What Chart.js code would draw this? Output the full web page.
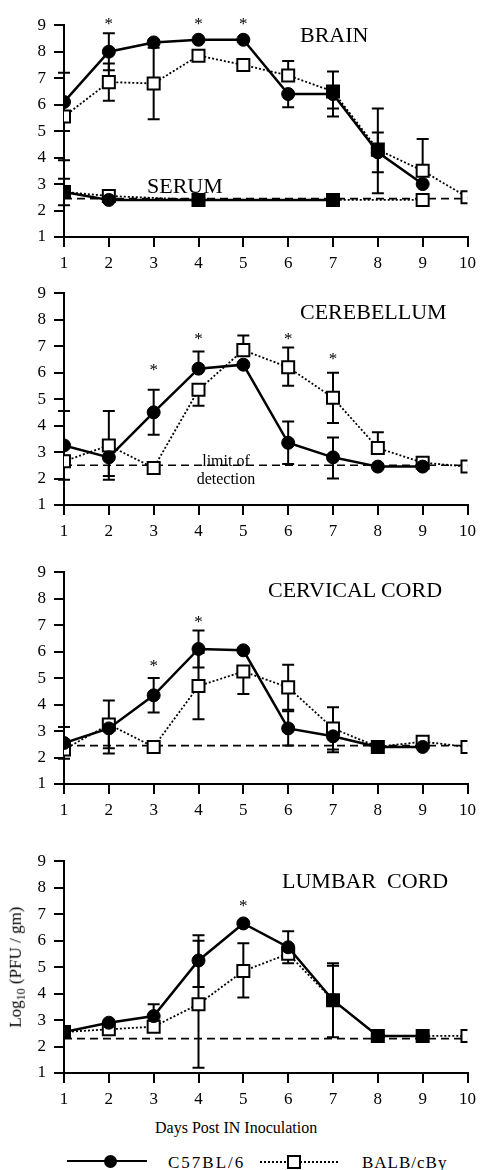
<!DOCTYPE html>
<html>
<head>
<meta charset="utf-8">
<script src="https://cdn.jsdelivr.net/npm/chart.js@4.4.1/dist/chart.umd.min.js"></script>
<style>
  body { margin: 0; background: #fff; }
  #wrap { position: relative; width: 482px; height: 1170px; overflow: hidden; font-family: "Liberation Serif", serif; color: #000; }
  canvas { position: absolute; left: 0; }
  .t { position: absolute; white-space: nowrap; line-height: 1; }
  .big { font-size: 22px; }
</style>
</head>
<body>
<div id="wrap">
  <canvas id="c1" width="482" height="266" style="top:7px"></canvas>
  <canvas id="c2" width="482" height="266" style="top:275px"></canvas>
  <canvas id="c3" width="482" height="266" style="top:554px"></canvas>
  <canvas id="c4" width="482" height="266" style="top:843px"></canvas>

  <div class="t big" style="left:300px;top:24px">BRAIN</div>
  <div class="t big" style="left:147px;top:175px">SERUM</div>
  <div class="t big" style="left:300px;top:301px">CEREBELLUM</div>
  <div class="t" style="left:190px;top:452px;font-size:16px;line-height:18px;text-align:center;width:72px">limit of<br>detection</div>
  <div class="t big" style="left:268px;top:579px">CERVICAL CORD</div>
  <div class="t big" style="left:282px;top:870px">LUMBAR&nbsp;&nbsp;CORD</div>

  <div class="t" style="left:-53px;top:957px;width:140px;text-align:center;font-size:17px;transform:rotate(-90deg)">Log<sub style="font-size:12px">10</sub> (PFU / gm)</div>
  <div class="t" style="left:155px;top:1120px;font-size:16px">Days Post IN Inoculation</div>

  <div style="position:absolute;left:67px;top:1160px;width:80px;border-top:2.5px solid #000"></div>
  <div style="position:absolute;left:104px;top:1155px;width:13px;height:13px;border-radius:50%;background:#000"></div>
  <div class="t" style="left:168px;top:1154px;font-size:17px;letter-spacing:2px">C57BL/6</div>
  <div style="position:absolute;left:260px;top:1161px;width:78px;border-top:2px dotted #000"></div>
  <div style="position:absolute;left:287px;top:1155px;width:10px;height:10px;border:2px solid #000;background:#fff"></div>
  <div class="t" style="left:362px;top:1154px;font-size:17px;letter-spacing:1px">BALB/cBy</div>
</div>

<script>
const days = [1, 2, 3, 4, 5, 6, 7, 8, 9, 10];

// BRAIN
const brainC57 = [6.1, 8.0, 8.35, 8.45, 8.45, 6.4, 6.4, 4.2, 3.0, null];
const brainBalb = [5.55, 6.85, 6.8, 7.85, 7.5, 7.1, 6.5, 4.3, 3.5, 2.5];
const brainC57Hi = [7.2, 8.7, null, null, null, null, null, 4.95, null, null];
const brainC57Lo = [5.0, 7.3, null, null, null, 5.9, 5.55, 3.45, null, null];
const brainBalbHi = [null, 7.55, 8.15, null, null, 7.65, 7.25, 5.85, 4.7, null];
const brainBalbLo = [3.9, 6.15, 5.45, null, null, null, 5.85, 2.65, null, null];
const serumC57 = [2.7, 2.4, null, 2.4, null, null, 2.4, null, null, null];
const serumBalb = [2.7, 2.55, null, 2.4, null, null, 2.4, null, 2.4, null];
const serumHi = [3.2, null, null, null, null, null, null, null, null, null];
const serumLo = [2.2, null, null, null, null, null, null, null, null, null];
const brainStarDays = [2, 4, 5];
const brainStarLevels = [9.15, 9.15, 9.15];

// CEREBELLUM
const cbC57 = [3.25, 2.8, 4.5, 6.15, 6.3, 3.35, 2.8, 2.45, 2.45, null];
const cbBalb = [2.65, 3.25, 2.4, 5.35, 6.85, 6.2, 5.05, 3.15, 2.6, 2.45];
const cbC57Hi = [4.55, null, 5.35, 6.8, null, 4.15, 3.55, null, null, null];
const cbC57Lo = [null, 2.1, 3.65, null, null, 2.55, 2.0, null, null, null];
const cbBalbHi = [null, 4.55, null, null, 7.4, 6.95, 6.0, 3.75, null, null];
const cbBalbLo = [1.95, 1.95, null, 4.75, null, 5.5, 4.1, null, null, null];
const cbStarDays = [3, 4, 6, 7];
const cbStarLevels = [6.2, 7.35, 7.35, 6.6];

// CERVICAL CORD
const cvC57 = [2.55, 3.1, 4.35, 6.1, 6.05, 3.1, 2.8, 2.4, 2.4, null];
const cvBalb = [2.3, 3.25, 2.4, 4.7, 5.25, 4.65, 3.1, 2.4, 2.6, 2.4];
const cvC57Hi = [3.15, null, 5.0, 6.8, null, 3.75, null, null, null, null];
const cvC57Lo = [null, 2.15, 3.7, 5.4, null, 2.45, 2.3, null, null, null];
const cvBalbHi = [null, 4.15, null, 5.95, null, 5.5, 3.9, null, null, null];
const cvBalbLo = [1.95, 2.35, null, 3.45, 4.4, 3.8, 2.2, null, null, null];
const cvStarDays = [3, 4];
const cvStarLevels = [5.55, 7.2];

// LUMBAR CORD
const lbC57 = [2.55, 2.9, 3.15, 5.25, 6.65, 5.75, 3.75, 2.4, 2.4, null];
const lbBalb = [2.55, 2.65, 2.75, 3.6, 4.85, 5.5, 3.75, 2.4, 2.4, 2.4];
const lbC57Hi = [null, null, 3.6, 6.2, null, 6.35, 5.15, null, null, null];
const lbC57Lo = [null, null, null, 4.25, null, null, 2.35, null, null, null];
const lbBalbHi = [null, null, null, 6.0, 5.9, null, 5.05, null, null, null];
const lbBalbLo = [null, null, null, 1.2, 3.85, 5.15, null, null, null, null];
const lbStarDays = [5];
const lbStarLevels = [7.4];

const yTicks = [1, 2, 3, 4, 5, 6, 7, 8, 9];
const limits = [2.45, 2.5, 2.45, 2.3];

// turn a value list into {x,y} points, dropping the gaps
let pts = (vals) => days.map((d, i) => ({ x: d, y: vals[i] })).filter(p => p.y !== null);
let errs = (vals, arr) => days.map((d, i) => arr[i]).filter((e, i) => vals[i] !== null);

let c57Set = (vals, hi, lo) => ({
    data: pts(vals),
    errHi: errs(vals, hi), errLo: errs(vals, lo),
    borderColor: "#000", borderWidth: 2.5,
    pointStyle: "circle", pointRadius: 6.5,
    pointBackgroundColor: "#000", pointBorderColor: "#000", pointBorderWidth: 1
});

let balbSet = (vals, hi, lo, other) => ({
    data: pts(vals),
    errHi: errs(vals, hi), errLo: errs(vals, lo),
    borderColor: "#000", borderWidth: 1.8, borderDash: [2, 2],
    pointStyle: "rect", pointRadius: 8.5,
    // filled square where the two strains overlap
    pointBackgroundColor: days.filter((d, i) => vals[i] !== null)
        .map(d => (other[d - 1] !== null && Math.abs(other[d - 1] - vals[d - 1]) < 0.12) ? "#000" : "#fff"),
    pointBorderColor: "#000", pointBorderWidth: 2
});

let limitSet = (v) => ({
    data: [{ x: 1, y: v }, { x: 10, y: v }],
    borderColor: "#000", borderWidth: 1.6, borderDash: [8, 5],
    pointRadius: 0
});

const errorBars = {
    id: "errorBars",
    beforeDatasetsDraw(chart) {
        const c = chart.ctx, xs = chart.scales.x, ys = chart.scales.y;
        c.save();
        c.strokeStyle = "#000";
        c.lineWidth = 2;
        chart.data.datasets.forEach(ds => {
            if (!ds.errHi) return;
            ds.data.forEach((p, i) => {
                const x = xs.getPixelForValue(p.x), y = ys.getPixelForValue(p.y);
                [ds.errHi[i], ds.errLo[i]].forEach(e => {
                    if (e === null || e === undefined) return;
                    const ye = ys.getPixelForValue(e);
                    c.beginPath();
                    c.moveTo(x, y); c.lineTo(x, ye);
                    c.moveTo(x - 6, ye); c.lineTo(x + 6, ye);
                    c.stroke();
                });
            });
        });
        c.restore();
    }
};

const stars = {
    id: "stars",
    afterDatasetsDraw(chart, args, opts) {
        const c = chart.ctx, xs = chart.scales.x, ys = chart.scales.y;
        c.save();
        c.fillStyle = "#000";
        c.font = "17px 'Liberation Serif'";
        c.textAlign = "center";
        c.textBaseline = "middle";
        opts.days.forEach((d, i) => {
            c.fillText("*", xs.getPixelForValue(d), ys.getPixelForValue(opts.levels[i]) + 3);
        });
        c.restore();
    }
};

let makePanel = (id, datasets, starDays, starLevels) => {
    return new Chart(document.getElementById(id), {
        type: "line",
        data: { datasets: datasets },
        plugins: [errorBars, stars],
        options: {
            responsive: false,
            animation: false,
            layout: { padding: { top: 10, right: 12, left: 0, bottom: 0 } },
            plugins: {
                legend: { display: false },
                tooltip: { enabled: false },
                stars: { days: starDays, levels: starLevels }
            },
            scales: {
                x: {
                    type: "linear", min: 1, max: 10,
                    afterFit: s => { s.height = 36; },
                    ticks: {
                        stepSize: 1, color: "#000", padding: 6,
                        font: { family: "Liberation Serif", size: 17 }
                    },
                    grid: { drawOnChartArea: false, color: "#000", lineWidth: 2, tickLength: 10 },
                    border: { color: "#000", width: 2 }
                },
                y: {
                    min: 1, max: 9,
                    afterFit: s => { s.width = 64; },
                    afterBuildTicks: s => { s.ticks = yTicks.map(v => ({ value: v })); },
                    ticks: {
                        color: "#000", padding: 8,
                        font: { family: "Liberation Serif", size: 17 }
                    },
                    grid: { drawOnChartArea: false, color: "#000", lineWidth: 2, tickLength: 10 },
                    border: { color: "#000", width: 2 }
                }
            }
        }
    });
};

makePanel("c1", [
    c57Set(brainC57, brainC57Hi, brainC57Lo),
    balbSet(brainBalb, brainBalbHi, brainBalbLo, brainC57),
    c57Set(serumC57, serumHi, serumLo),
    balbSet(serumBalb, days.map(() => null), days.map(() => null), serumC57),
    limitSet(limits[0])
], brainStarDays, brainStarLevels);

makePanel("c2", [
    c57Set(cbC57, cbC57Hi, cbC57Lo),
    balbSet(cbBalb, cbBalbHi, cbBalbLo, cbC57),
    limitSet(limits[1])
], cbStarDays, cbStarLevels);

makePanel("c3", [
    c57Set(cvC57, cvC57Hi, cvC57Lo),
    balbSet(cvBalb, cvBalbHi, cvBalbLo, cvC57),
    limitSet(limits[2])
], cvStarDays, cvStarLevels);

makePanel("c4", [
    c57Set(lbC57, lbC57Hi, lbC57Lo),
    balbSet(lbBalb, lbBalbHi, lbBalbLo, lbC57),
    limitSet(limits[3])
], lbStarDays, lbStarLevels);
</script>
</body>
</html>
